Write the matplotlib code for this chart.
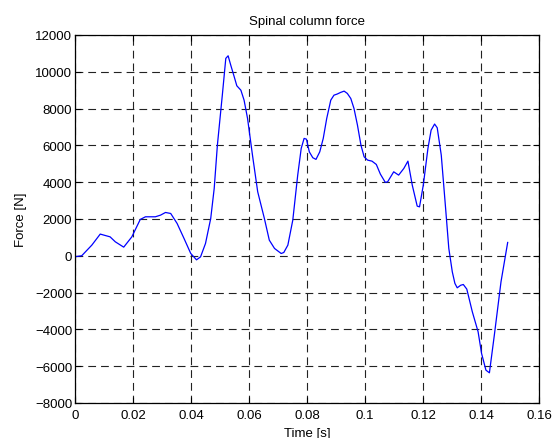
import numpy as np
import matplotlib
matplotlib.use("Agg")
import matplotlib.pyplot as plt

plt.rcParams['font.family'] = ['Liberation Sans', 'DejaVu Sans']

time_s = [0.0, 0.0023, 0.0058, 0.0087, 0.0121, 0.0139, 0.0168, 0.0196, 0.0225,
          0.0243, 0.0277, 0.0295, 0.0312, 0.0330, 0.0352, 0.0376, 0.0399, 0.0419,
          0.0433, 0.0450, 0.0468, 0.0480, 0.0491, 0.0508, 0.0520, 0.0528, 0.0537,
          0.0549, 0.0558, 0.0572, 0.0583, 0.0595, 0.0612, 0.0630, 0.0653, 0.0670,
          0.0688, 0.0711, 0.0720, 0.0734, 0.0751, 0.0768, 0.0780, 0.0790, 0.0798,
          0.0808, 0.0820, 0.0831, 0.0844, 0.0856, 0.0868, 0.0882, 0.0893, 0.0904,
          0.0916, 0.0928, 0.0939, 0.0951, 0.0962, 0.0974, 0.0986, 0.0997, 0.1009,
          0.1024, 0.1039, 0.1053, 0.1070, 0.1078, 0.1099, 0.1116, 0.1134, 0.1148,
          0.1163, 0.1180, 0.1188, 0.1201, 0.1217, 0.1228, 0.1240, 0.1249, 0.1263,
          0.1278, 0.1289, 0.1301, 0.1310, 0.1318, 0.1330, 0.1339, 0.1351, 0.1370,
          0.1390, 0.1402, 0.1417, 0.1429, 0.1446, 0.1469, 0.1492]
force_n = [-50, 0, 580, 1180, 1030, 760, 470, 1030, 1975,
           2120, 2120, 2210, 2355, 2300, 1760, 940, 130, -220,
           -55, 670, 2030, 3660, 6015, 8730, 10730, 10870, 10365,
           9730, 9240, 9000, 8460, 7465, 5470, 3480, 2030, 850,
           400, 125, 180, 580, 1940, 4385, 5835, 6380, 6340,
           5650, 5330, 5240, 5650, 6380, 7465, 8460, 8730, 8790,
           8880, 8950, 8825, 8550, 8010, 7100, 6015, 5380, 5200,
           5145, 4965, 4440, 3990, 4020, 4565, 4385, 4750, 5145,
           3840, 2700, 2660, 3840, 5835, 6830, 7160, 6960, 5470,
           2570, 400, -870, -1500, -1740, -1600, -1560, -1810, -3040,
           -4130, -5310, -6215, -6360, -4310, -1410, 725]

xticks = [0, 0.02, 0.04, 0.06, 0.08, 0.1, 0.12, 0.14, 0.16]
xticklabels = ['0', '0.02', '0.04', '0.06', '0.08', '0.1', '0.12', '0.14', '0.16']
yticks = list(range(-8000, 12001, 2000))

fig = plt.figure(figsize=(5.53, 4.39), dpi=100)
ax = fig.add_axes([75 / 553, 1 - 404 / 439, (539 - 75) / 553, (404 - 36) / 439])

ax.plot(time_s, force_n, color='#0000ff', linewidth=0.9)

ax.set_xlim(0, 0.16)
ax.set_ylim(-8000, 12000)
ax.set_xticks(xticks)
ax.set_xticklabels(xticklabels)
ax.set_yticks(yticks)
ax.grid(True, color='#222222', linestyle=(0, (7, 4.5)), linewidth=0.8)
ax.tick_params(direction='in', length=4, width=0.8, top=True, right=True,
               labelsize=9.5, colors='black')
ax.tick_params(axis='x', pad=4)
ax.tick_params(axis='y', pad=2)
for sp in ax.spines.values():
    sp.set_linewidth(0.9)

ax.set_title('Spinal column force', fontsize=9.5, pad=8)
ax.set_xlabel('Time [s]', fontsize=9.5, labelpad=5)
ax.set_ylabel('Force [N]', fontsize=9.5, labelpad=6)

fig.savefig('out.png', dpi=100)
